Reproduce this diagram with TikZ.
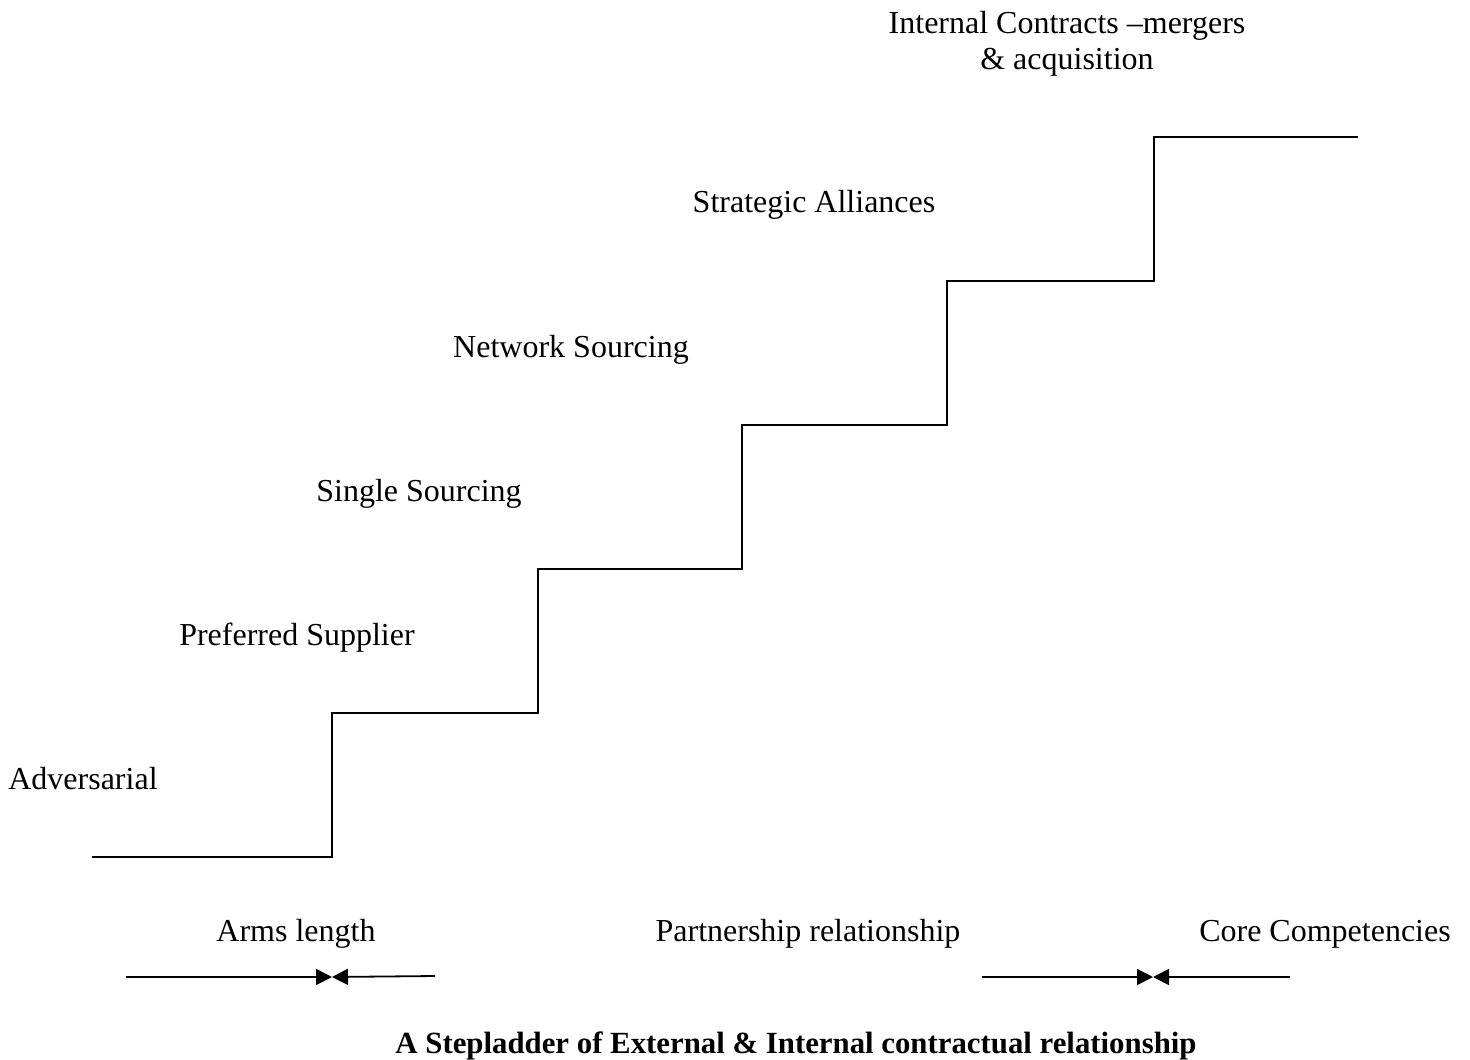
\documentclass[tikz,border=0pt]{standalone}
\usepackage{fontspec}
\setmainfont{Liberation Serif}
\usetikzlibrary{arrows.meta, positioning}

\begin{document}
\begin{tikzpicture}[x=0.5pt, y=-0.5pt, >={Triangle[length=8pt, width=8pt]},
  lbl/.style={font=\fontsize{16}{18}\selectfont, anchor=base, inner sep=0pt},
  stair/.style={line width=1pt, line join=miter},
  span/.style={->, line width=0.9pt}]
  \useasboundingbox (0,0) rectangle (1470,1059);

  % Staircase
  \draw[stair] (92,857) -- (332,857) -- (332,713) -- (538,713) -- (538,569)
    -- (742,569) -- (742,425) -- (947,425) -- (947,281) -- (1154,281)
    -- (1154,137) -- (1358,137);

  % Step labels
  \node[lbl] (adv) at (83,789) {Adversarial};
  \node[lbl] (pref) at (297,645) {Preferred Supplier};
  \node[lbl] (single) at (419,501) {Single Sourcing};
  \node[lbl] (network) at (571,357) {Network Sourcing};
  \node[lbl] (strat) at (814,213) {Strategic Alliances};
  \node[lbl, align=center] (internal) at (1067,70)
    {Internal Contracts --mergers\\ \& acquisition};

  % Relationship labels
  \node[lbl] (arms) at (296,941) {Arms length};
  \node[lbl] (partner) at (808,941) {Partnership relationship};
  \node[lbl] (core) at (1325,941) {Core Competencies};

  % Arrows
  \coordinate (a1) at (126,977);
  \coordinate (a2) at (332,977);
  \coordinate (a3) at (435,976);
  \coordinate (b1) at (982,977);
  \coordinate (b2) at (1153,977);
  \coordinate (b3) at (1290,977);
  \draw[span] (a1) -- (a2);
  \draw[span] (a3) -- (a2);
  \draw[span] (b1) -- (b2);
  \draw[span] (b3) -- (b2);

  % Caption
  \node[lbl, font=\fontsize{15.4}{18}\selectfont\bfseries] (title) at (796,1053)
    {A Stepladder of External \& Internal contractual relationship};
\end{tikzpicture}
\end{document}
